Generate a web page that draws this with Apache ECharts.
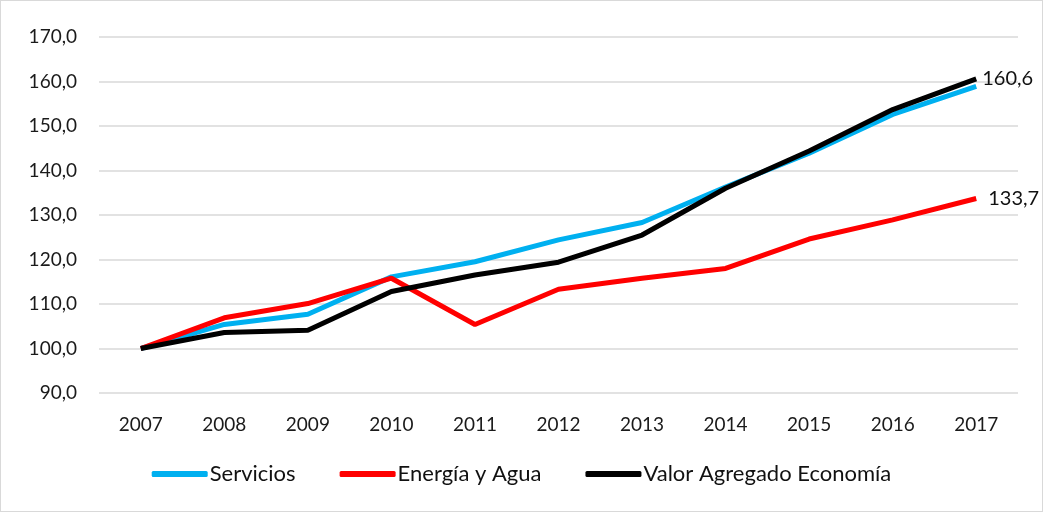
<!DOCTYPE html>
<html>
<head>
<meta charset="utf-8">
<script src="https://cdn.jsdelivr.net/npm/echarts@6/dist/echarts.min.js"></script>
<style>
  html, body { margin: 0; padding: 0; background: #fff; }
  #main { width: 1041px; height: 510px; border: 1px solid #d9d9d9; }
</style>
</head>
<body>
<div id="main"></div>
<script>
var years = ['2007', '2008', '2009', '2010', '2011', '2012', '2013', '2014', '2015', '2016', '2017'];
var servicios = [100.0, 105.4, 107.7, 116.1, 119.5, 124.4, 128.3, 136.3, 143.9, 152.6, 158.9];
var energiaAgua = [100.0, 106.9, 110.1, 115.8, 105.4, 113.3, 115.8, 118.0, 124.6, 128.9, 133.7];
var valorAgregado = [100.0, 103.6, 104.1, 112.8, 116.5, 119.4, 125.5, 136.0, 144.4, 153.7, 160.6];

var myChart = echarts.init(document.getElementById('main'));

function coma(v) {
    return v.toFixed(1).replace('.', ',');
}

var font = 'Lato, "Open Sans", sans-serif';

var option = {
    animation: false,
    textStyle: { fontFamily: font },
    grid: { left: 98, right: 24, top: 36, bottom: 118 },
    legend: {
        bottom: 21,
        left: 'center',
        itemWidth: 56,
        itemHeight: 6,
        itemGap: 44,
        icon: 'roundRect',
        textStyle: { fontSize: 22, color: '#111', fontFamily: font, padding: [0, 0, 0, -3] },
        data: ['Servicios', 'Energía y Agua', 'Valor Agregado Economía']
    },
    xAxis: {
        type: 'category',
        data: years,
        boundaryGap: true,
        axisLine: { show: false },
        axisTick: { show: false },
        axisLabel: { fontSize: 19, color: '#1a1a1a', margin: 22 }
    },
    yAxis: {
        type: 'value',
        min: 90,
        max: 170,
        interval: 10,
        axisLabel: {
            fontSize: 19,
            color: '#1a1a1a',
            margin: 22,
            formatter: coma
        },
        splitLine: { lineStyle: { color: '#d9d9d9', width: 1.5 } }
    },
    series: [{
        name: 'Servicios',
        type: 'line',
        data: servicios,
        symbol: 'none',
        lineStyle: { color: '#00b0f0', width: 5 },
        itemStyle: { color: '#00b0f0' }
    }, {
        name: 'Energía y Agua',
        type: 'line',
        data: energiaAgua,
        symbol: 'none',
        lineStyle: { color: '#ff0000', width: 5 },
        itemStyle: { color: '#ff0000' },
        endLabel: {
            show: true, distance: 12, fontSize: 20, color: '#111',
            formatter: function (p) { return coma(p.value); }
        }
    }, {
        name: 'Valor Agregado Economía',
        type: 'line',
        data: valorAgregado,
        symbol: 'none',
        lineStyle: { color: '#000000', width: 5 },
        itemStyle: { color: '#000000' },
        endLabel: {
            show: true, distance: 6, fontSize: 20, color: '#111',
            formatter: function (p) { return coma(p.value); }
        }
    }]
};

myChart.setOption(option);
</script>
</body>
</html>
